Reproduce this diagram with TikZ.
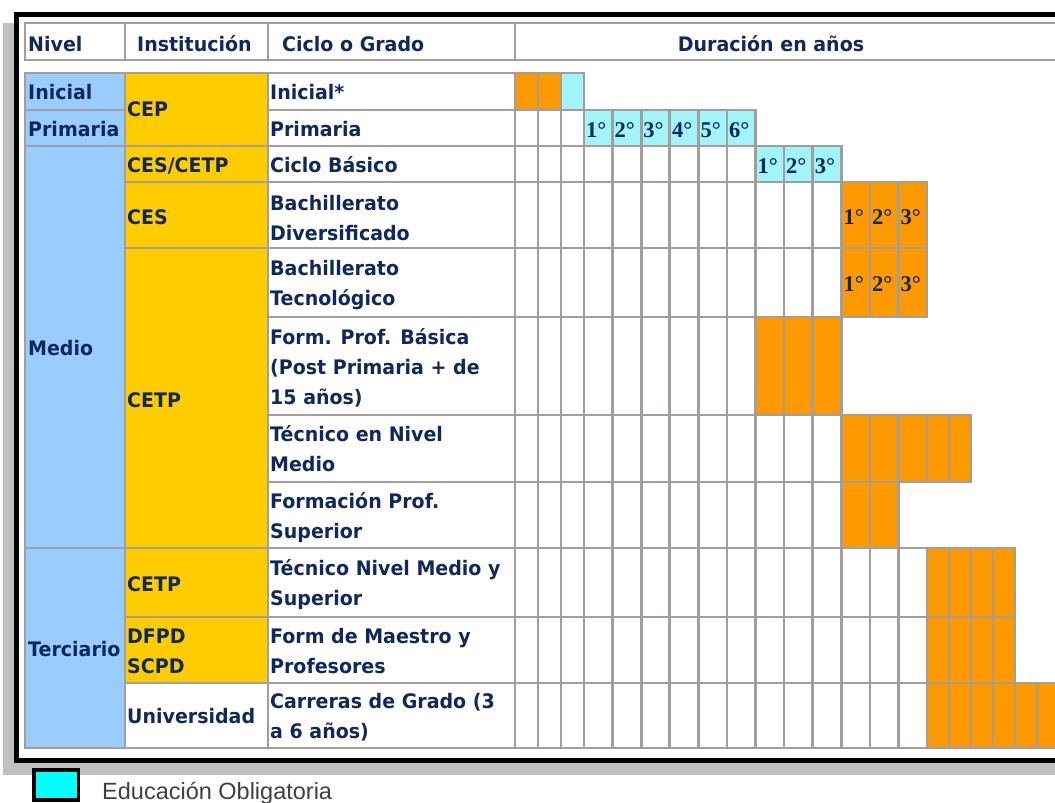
\documentclass[tikz,border=0pt]{standalone}
\usepackage{fontspec}
\newfontfamily\tabfont{DejaVu Sans}[FakeStretch=0.95]
\newfontfamily\degfont{Liberation Serif}
\newfontfamily\legfont{Liberation Sans}
\definecolor{navy}{RGB}{16,40,96}
\definecolor{nivelblue}{RGB}{153,204,255}
\definecolor{instyellow}{RGB}{255,204,0}
\definecolor{cellorange}{RGB}{255,153,0}
\definecolor{cellcyan}{RGB}{160,244,250}
\definecolor{gridgray}{RGB}{162,159,155}
\definecolor{shadowgray}{RGB}{192,192,192}
\definecolor{legcyan}{RGB}{0,255,255}
\definecolor{legtext}{RGB}{64,64,64}
\def\colsx{{515,538,561,584,612.6,641.2,669.8,698.3,726.9,755.5,784,812.7,841.3,869.9,898.5,927,949,971,993,1015,1037,1059}}
\def\rowsy{{73,110,146,182,248,317,415,482,548,617,683,748}}
\newcommand\gcell[3]{%
  \pgfmathsetmacro\gxl{\colsx[#2-1]}\pgfmathsetmacro\gxr{\colsx[#2]}%
  \pgfmathsetmacro\gyt{\rowsy[#1-1]}\pgfmathsetmacro\gyb{\rowsy[#1]}%
  \draw[gridcell, fill=#3] (\gxl,\gyt) rectangle (\gxr,\gyb);}
\newcommand\gcells[4]{\foreach \k in {#2,...,#3}{\gcell{#1}{\k}{#4}}}
\begin{document}
\begin{tikzpicture}[x=1pt,y=-1pt,
  txt/.style={font=\tabfont\bfseries\fontsize{20}{30}\selectfont, text=navy, inner sep=0, anchor=base west, align=left},
  deg/.style={font=\degfont\bfseries\fontsize{22.5}{24}\selectfont, text=navy, inner sep=0, anchor=base west},
  gridcell/.style={draw=gridgray, line width=2.8},
  headcell/.style={draw=gridgray, line width=2.2, fill=white},
  nivelcell/.style={gridcell, fill=nivelblue},
  instcell/.style={gridcell, fill=instyellow},
  whitecell/.style={gridcell, fill=white}]
\useasboundingbox (0,0) rectangle (1055,803);
\clip (0,0) rectangle (1055,803);
% shadow and frame
\fill[shadowgray] (3,23) rectangle (1075,775);
\draw[line width=5, fill=white] (16.5,14.5) rectangle (1075,760.5);
% header
\draw[headcell] (25,23) rectangle (125,60);
\draw[headcell] (125,23) rectangle (268,60);
\draw[headcell] (268,23) rectangle (515,60);
\draw[headcell] (515,23) rectangle (1075,60);
\node[txt] (hnivel) at (28,51) {Nivel};
\node[txt] (hinst) at (137,51) {Institución};
\node[txt] (hciclo) at (282,51) {Ciclo o Grado};
\node[txt, anchor=base] (hdur) at (771,51) {Duración en años};
% Nivel column
\draw[nivelcell] (25,73) rectangle (125,110);
\draw[nivelcell] (25,110) rectangle (125,146);
\draw[nivelcell] (25,146) rectangle (125,548);
\draw[nivelcell] (25,548) rectangle (125,748);
\node[txt] (nini) at (28,99.5) {Inicial};
\node[txt] (nprim) at (28,136) {Primaria};
\node[txt] (nmed) at (28,355) {Medio};
\node[txt] (nter) at (28,656) {Terciario};
% Institucion column
\draw[instcell] (125,73) rectangle (268,146);
\draw[instcell] (125,146) rectangle (268,182);
\draw[instcell] (125,182) rectangle (268,248);
\draw[instcell] (125,248) rectangle (268,548);
\draw[instcell] (125,548) rectangle (268,617);
\draw[instcell] (125,617) rectangle (268,683);
\draw[whitecell] (125,683) rectangle (268,748);
\node[txt] (icep) at (127,116) {CEP};
\node[txt] (icescetp) at (127,172) {CES/CETP};
\node[txt] (ices) at (127,224) {CES};
\node[txt] (icetpa) at (127,407) {CETP};
\node[txt] (icetpb) at (127,591) {CETP};
\node[txt] (idfpd) at (127,673) {DFPD\\SCPD};
\node[txt] (iuni) at (127,723.5) {Universidad};
% Ciclo column
\foreach \r in {1,...,11}{
  \pgfmathsetmacro\gyt{\rowsy[\r-1]}\pgfmathsetmacro\gyb{\rowsy[\r]}
  \draw[whitecell] (268,\gyt) rectangle (515,\gyb);
}
\node[txt] (cini) at (270,99.5) {Inicial*};
\node[txt] (cprim) at (270,136) {Primaria};
\node[txt] (cbas) at (270,172) {Ciclo Básico};
\node[txt] (cbdiv) at (270,240) {Bachillerato\\Diversificado};
\node[txt] (cbtec) at (270,305.5) {Bachillerato\\Tecnológico};
\node[txt] (cfpb) at (270,404) {Form. Prof. Básica\\(Post Primaria + de\\15 años)};
\node[txt] (ctnm) at (270,471.5) {Técnico en Nivel\\Medio};
\node[txt] (cfps) at (270,538) {Formación Prof.\\Superior};
\node[txt] (ctnms) at (270,605.5) {Técnico Nivel Medio y\\Superior};
\node[txt] (cfmp) at (270,673) {Form de Maestro y\\Profesores};
\node[txt] (ccg) at (270,738.5) {Carreras de Grado (3\\a 6 años)};
% Duration grid
\gcells{1}{1}{2}{cellorange}
\gcell{1}{3}{cellcyan}
\gcells{2}{1}{3}{white}
\gcells{2}{4}{9}{cellcyan}
\gcells{3}{1}{9}{white}
\gcells{3}{10}{12}{cellcyan}
\gcells{4}{1}{12}{white}
\gcells{4}{13}{15}{cellorange}
\gcells{5}{1}{12}{white}
\gcells{5}{13}{15}{cellorange}
\gcells{6}{1}{9}{white}
\gcells{6}{10}{12}{cellorange}
\gcells{7}{1}{12}{white}
\gcells{7}{13}{17}{cellorange}
\gcells{8}{1}{12}{white}
\gcells{8}{13}{14}{cellorange}
\gcells{9}{1}{15}{white}
\gcells{9}{16}{19}{cellorange}
\gcells{10}{1}{15}{white}
\gcells{10}{16}{19}{cellorange}
\gcells{11}{1}{15}{white}
\gcells{11}{16}{21}{cellorange}
% degree labels
\node[deg] (p1) at (586,137) {1°};
\node[deg] (p2) at (614.5,137) {2°};
\node[deg] (p3) at (643.2,137) {3°};
\node[deg] (p4) at (671.8,137) {4°};
\node[deg] (p5) at (700.3,137) {5°};
\node[deg] (p6) at (728.9,137) {6°};
\node[deg] (b1) at (757.5,173) {1°};
\node[deg] (b2) at (786,173) {2°};
\node[deg] (b3) at (814.7,173) {3°};
\node[deg] (d1) at (843.3,224) {1°};
\node[deg] (d2) at (871.9,224) {2°};
\node[deg] (d3) at (900.5,224) {3°};
\node[deg] (t1) at (843.3,291) {1°};
\node[deg] (t2) at (871.9,291) {2°};
\node[deg] (t3) at (900.5,291) {3°};
% legend
\node[draw=black, line width=3.5, fill=legcyan, minimum width=44.5pt, minimum height=30pt, inner sep=0] (legbox) at (56,785) {};
\node[font=\legfont\fontsize{23.5}{26}\selectfont, text=legtext, inner sep=0, anchor=base west] (legtxt) at (102,799) {Educación Obligatoria};
\end{tikzpicture}
\end{document}
